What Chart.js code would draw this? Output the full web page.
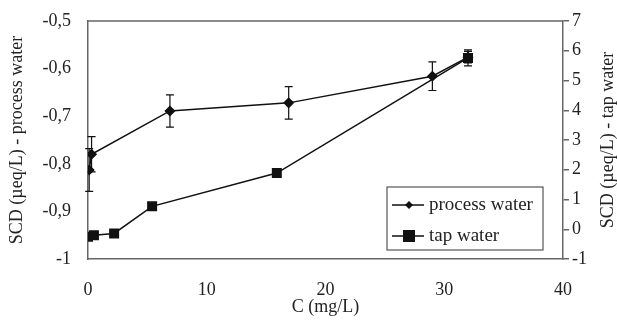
<!DOCTYPE html>
<html>
<head>
<meta charset="utf-8">
<script src="https://cdn.jsdelivr.net/npm/chart.js@4"></script>
<style>
  body { margin: 0; background: #fff; }
</style>
</head>
<body>
<canvas id="myChart" width="617" height="321"></canvas>
<script>
// Datos
var processC = [0.1, 0.3, 6.9, 16.9, 29, 32];
var processSCD = [-0.813, -0.78, -0.689, -0.672, -0.616, -0.576];
var processErr = [0.045, 0.037, 0.034, 0.034, 0.03, 0.012];

var tapC = [0, 0.5, 2.2, 5.4, 15.9, 32];
var tapSCD = [-0.25, -0.2, -0.14, 0.77, 1.89, 5.76];
var tapErr = [0, 0, 0, 0, 0, 0.27];

var xTicks = [0, 10, 20, 30, 40];
var leftTicks = [-1, -0.9, -0.8, -0.7, -0.6, -0.5];
var rightTicks = [-1, 0, 1, 2, 3, 4, 5, 6, 7];

var fontFam = "'Liberation Serif', 'Times New Roman', serif";
var axisColor = "#666";
var textColor = "#222";

// Barras de error, marco, leyenda y título derecho
var extras = {
  id: "extras",
  afterDatasetsDraw: function (chart) {
    var c = chart.ctx;
    var a = chart.chartArea;
    var xs = chart.scales.x;
    c.save();
    c.strokeStyle = "#111";
    c.lineWidth = 1.2;
    function bars(xv, yv, ev, sc) {
      for (var i = 0; i < xv.length; i++) {
        if (!ev[i]) continue;
        var px = xs.getPixelForValue(xv[i]);
        var y1 = sc.getPixelForValue(yv[i] - ev[i]);
        var y2 = sc.getPixelForValue(yv[i] + ev[i]);
        c.beginPath();
        c.moveTo(px, y1); c.lineTo(px, y2);
        c.moveTo(px - 4, y1); c.lineTo(px + 4, y1);
        c.moveTo(px - 4, y2); c.lineTo(px + 4, y2);
        c.stroke();
      }
    }
    bars(processC, processSCD, processErr, chart.scales.y);
    bars(tapC, tapSCD, tapErr, chart.scales.y2);

    // marco superior
    c.strokeStyle = axisColor;
    c.lineWidth = 1.5;
    c.beginPath();
    c.moveTo(a.left, a.top); c.lineTo(a.right, a.top);
    c.stroke();

    // leyenda
    var lx = 387, ly = 187, lw = 156, lh = 63;
    c.fillStyle = "#fff";
    c.fillRect(lx, ly, lw, lh);
    c.strokeStyle = "#555";
    c.lineWidth = 1.2;
    c.strokeRect(lx, ly, lw, lh);
    c.strokeStyle = "#111";
    c.fillStyle = "#111";
    c.lineWidth = 1.5;
    var rows = [ly + 18, ly + 49];
    for (var r = 0; r < 2; r++) {
      c.beginPath();
      c.moveTo(lx + 5, rows[r]); c.lineTo(lx + 37, rows[r]);
      c.stroke();
    }
    c.beginPath();
    var dx = lx + 22, dy = rows[0];
    c.moveTo(dx, dy - 4); c.lineTo(dx + 4, dy); c.lineTo(dx, dy + 4); c.lineTo(dx - 4, dy);
    c.closePath(); c.fill();
    c.fillRect(dx - 6, rows[1] - 6, 12, 12);
    c.font = "19px " + fontFam;
    c.fillStyle = textColor;
    c.textBaseline = "middle";
    c.fillText("process water", lx + 42, rows[0]);
    c.fillText("tap water", lx + 42, rows[1]);

    // título del eje derecho
    c.save();
    c.translate(608, (a.top + a.bottom) / 2);
    c.rotate(-Math.PI / 2);
    c.textAlign = "center";
    c.textBaseline = "middle";
    c.font = "18px " + fontFam;
    c.fillStyle = textColor;
    c.fillText("SCD (\u00b5eq/L) - tap water", 0, 0);
    c.restore();
    c.restore();
  }
};

var ctx = document.getElementById("myChart").getContext("2d");

var myChart = new Chart(ctx, {
  type: "line",
  data: {
    datasets: [
      {
        label: "process water",
        data: processC.map(function (x, i) { return { x: x, y: processSCD[i] }; }),
        borderColor: "#111",
        backgroundColor: "#111",
        borderWidth: 1.5,
        pointStyle: "rectRot",
        pointRadius: 4.5,
        yAxisID: "y",
      },
      {
        label: "tap water",
        data: tapC.map(function (x, i) { return { x: x, y: tapSCD[i] }; }),
        borderColor: "#111",
        backgroundColor: "#111",
        borderWidth: 1.5,
        pointStyle: "rect",
        pointRadius: 6,
        yAxisID: "y2",
      },
    ],
  },
  options: {
    responsive: false,
    animation: false,
    layout: { padding: { top: 21, right: 0, left: 0, bottom: 0 } },
    plugins: { legend: { display: false }, tooltip: { enabled: false } },
    scales: {
      x: {
        type: "linear",
        min: 0,
        max: 40,
        afterBuildTicks: function (s) { s.ticks = xTicks.map(function (v) { return { value: v }; }); },
        afterFit: function (s) { s.height = 62; },
        grid: { display: false },
        border: { color: axisColor, width: 1.5 },
        ticks: { font: { family: fontFam, size: 18 }, color: textColor, padding: 12, maxRotation: 0 },
        title: { display: true, text: "C (mg/L)", font: { family: fontFam, size: 18 }, color: textColor, padding: { top: 0, bottom: 3 } },
      },
      y: {
        position: "left",
        min: -1,
        max: -0.5,
        afterBuildTicks: function (s) { s.ticks = leftTicks.map(function (v) { return { value: v }; }); },
        afterFit: function (s) { s.width = 88; },
        grid: { display: false },
        border: { display: true, color: axisColor, width: 1.5 },
        ticks: {
          font: { family: fontFam, size: 18 },
          color: textColor,
          padding: 9,
          callback: function (v) { return String(Math.round(v * 10) / 10).replace(".", ","); },
        },
        title: { display: true, text: "SCD (\u00b5eq/L) - process water", font: { family: fontFam, size: 18 }, color: textColor, padding: { top: 6, bottom: 0 } },
      },
      y2: {
        position: "right",
        min: -1,
        max: 7,
        afterBuildTicks: function (s) { s.ticks = rightTicks.map(function (v) { return { value: v }; }); },
        afterFit: function (s) { s.width = 54; },
        grid: { drawOnChartArea: false, tickLength: 6, color: axisColor, lineWidth: 1.5 },
        border: { color: axisColor, width: 1.5 },
        ticks: { font: { family: fontFam, size: 18 }, color: textColor, padding: 3 },
      },
    },
  },
  plugins: [extras],
});
</script>
</body>
</html>
